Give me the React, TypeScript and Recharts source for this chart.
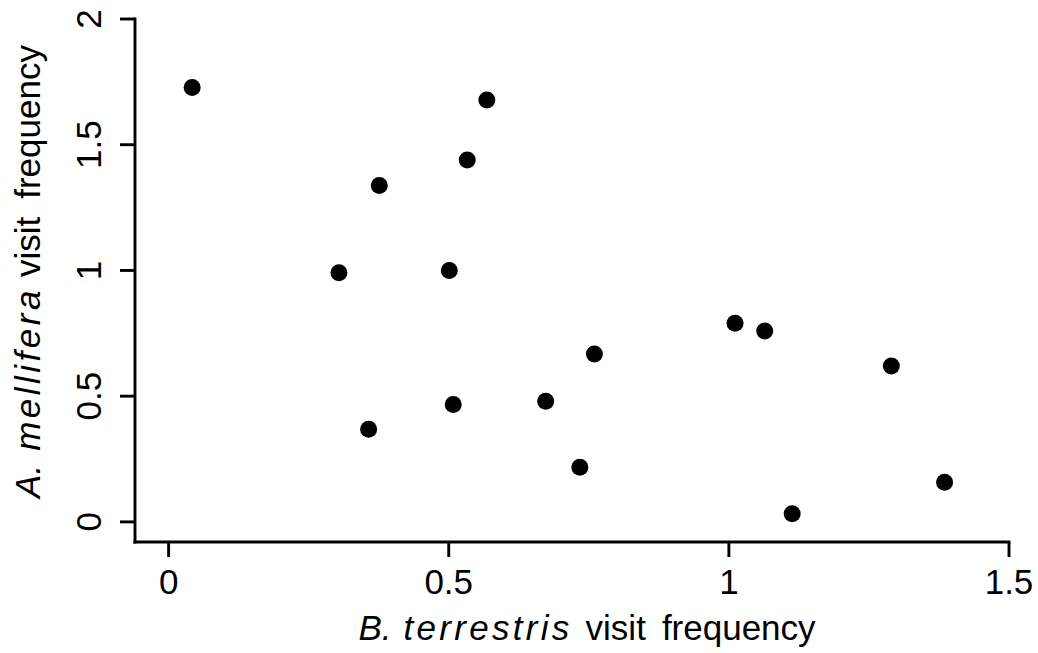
import { ScatterChart, Scatter, XAxis, YAxis } from 'recharts';

// visit frequencies per plant
const bTerrestris = [0.042, 0.568, 0.533, 0.376, 0.304, 0.501, 0.760, 0.508, 0.673, 0.357, 0.734, 1.011, 1.064, 1.290, 1.385, 1.113];
const aMellifera = [1.728, 1.678, 1.439, 1.338, 0.991, 1.000, 0.668, 0.467, 0.480, 0.368, 0.217, 0.790, 0.759, 0.620, 0.158, 0.032];

const xTicks = [0, 0.5, 1, 1.5];
const yTicks = [0, 0.5, 1, 1.5, 2];

const points = bTerrestris.map((x, i) => ({ x, y: aMellifera[i] }));

const FONT = '"Liberation Sans", Arial, sans-serif';
const FONT_SIZE = 35;

const XTick = (props: any) => {
  const { x, y, payload } = props;
  return (
    <text x={x} y={y} dy="0.71em" textAnchor="middle" fontFamily={FONT} fontSize={FONT_SIZE} fill="#000">
      {payload.value}
    </text>
  );
};

const YTick = (props: any) => {
  const { x, y, payload } = props;
  return (
    <text x={x} y={y} transform={`rotate(-90 ${x} ${y})`} textAnchor="middle" fontFamily={FONT} fontSize={FONT_SIZE} fill="#000">
      {payload.value}
    </text>
  );
};

const XTitle = (props: any) => {
  const vb = props.viewBox;
  const cx = vb.x + vb.width / 2 + 15;
  const cy = vb.y + 98;
  return (
    <text x={cx} y={cy} textAnchor="middle" fontFamily={FONT} fontSize={FONT_SIZE} fill="#000">
      <tspan fontStyle="italic">B.</tspan>
      <tspan dx={12} fontStyle="italic" letterSpacing={3.3}>terrestris</tspan>
      <tspan dx={13}>visit</tspan>
      <tspan dx={16}>frequency</tspan>
    </text>
  );
};

const YTitle = (props: any) => {
  const vb = props.viewBox;
  const cx = vb.x + 5;
  const cy = vb.y + vb.height / 2 - 9;
  return (
    <text x={cx} y={cy} transform={`rotate(-90 ${cx} ${cy})`} textAnchor="middle" fontFamily={FONT} fontSize={FONT_SIZE} fill="#000">
      <tspan fontStyle="italic">A.</tspan>
      <tspan dx={14} fontStyle="italic" letterSpacing={3.5}>mellifera</tspan>
      <tspan dx={10}>visit</tspan>
      <tspan dx={18}>frequency</tspan>
    </text>
  );
};

const Dot = (props: any) => <circle cx={props.cx} cy={props.cy} r={8.5} fill="#000" />;

const axisStroke = { stroke: '#000', strokeWidth: 2.9, strokeLinecap: 'square' as const };
const tickStroke = { stroke: '#000', strokeWidth: 2.9 };

export default function App() {
  return (
    <div style={{ position: 'absolute', left: 0, top: 0, background: '#fff' }}>
      <ScatterChart width={1038} height={653} margin={{ top: 19, right: 29, bottom: 51, left: 35 }}>
        <XAxis
          type="number"
          dataKey="x"
          domain={[-0.06, 1.5]}
          allowDataOverflow
          ticks={xTicks}
          height={60}
          tickSize={15}
          tickMargin={12}
          axisLine={axisStroke}
          tickLine={tickStroke}
          tick={<XTick />}
          label={<XTitle />}
        />
        <YAxis
          type="number"
          dataKey="y"
          domain={[-0.08, 2]}
          allowDataOverflow
          ticks={yTicks}
          width={100}
          tickSize={15}
          tickMargin={19}
          axisLine={axisStroke}
          tickLine={tickStroke}
          tick={<YTick />}
          label={<YTitle />}
        />
        <Scatter data={points} shape={<Dot />} isAnimationActive={false} />
      </ScatterChart>
    </div>
  );
}
